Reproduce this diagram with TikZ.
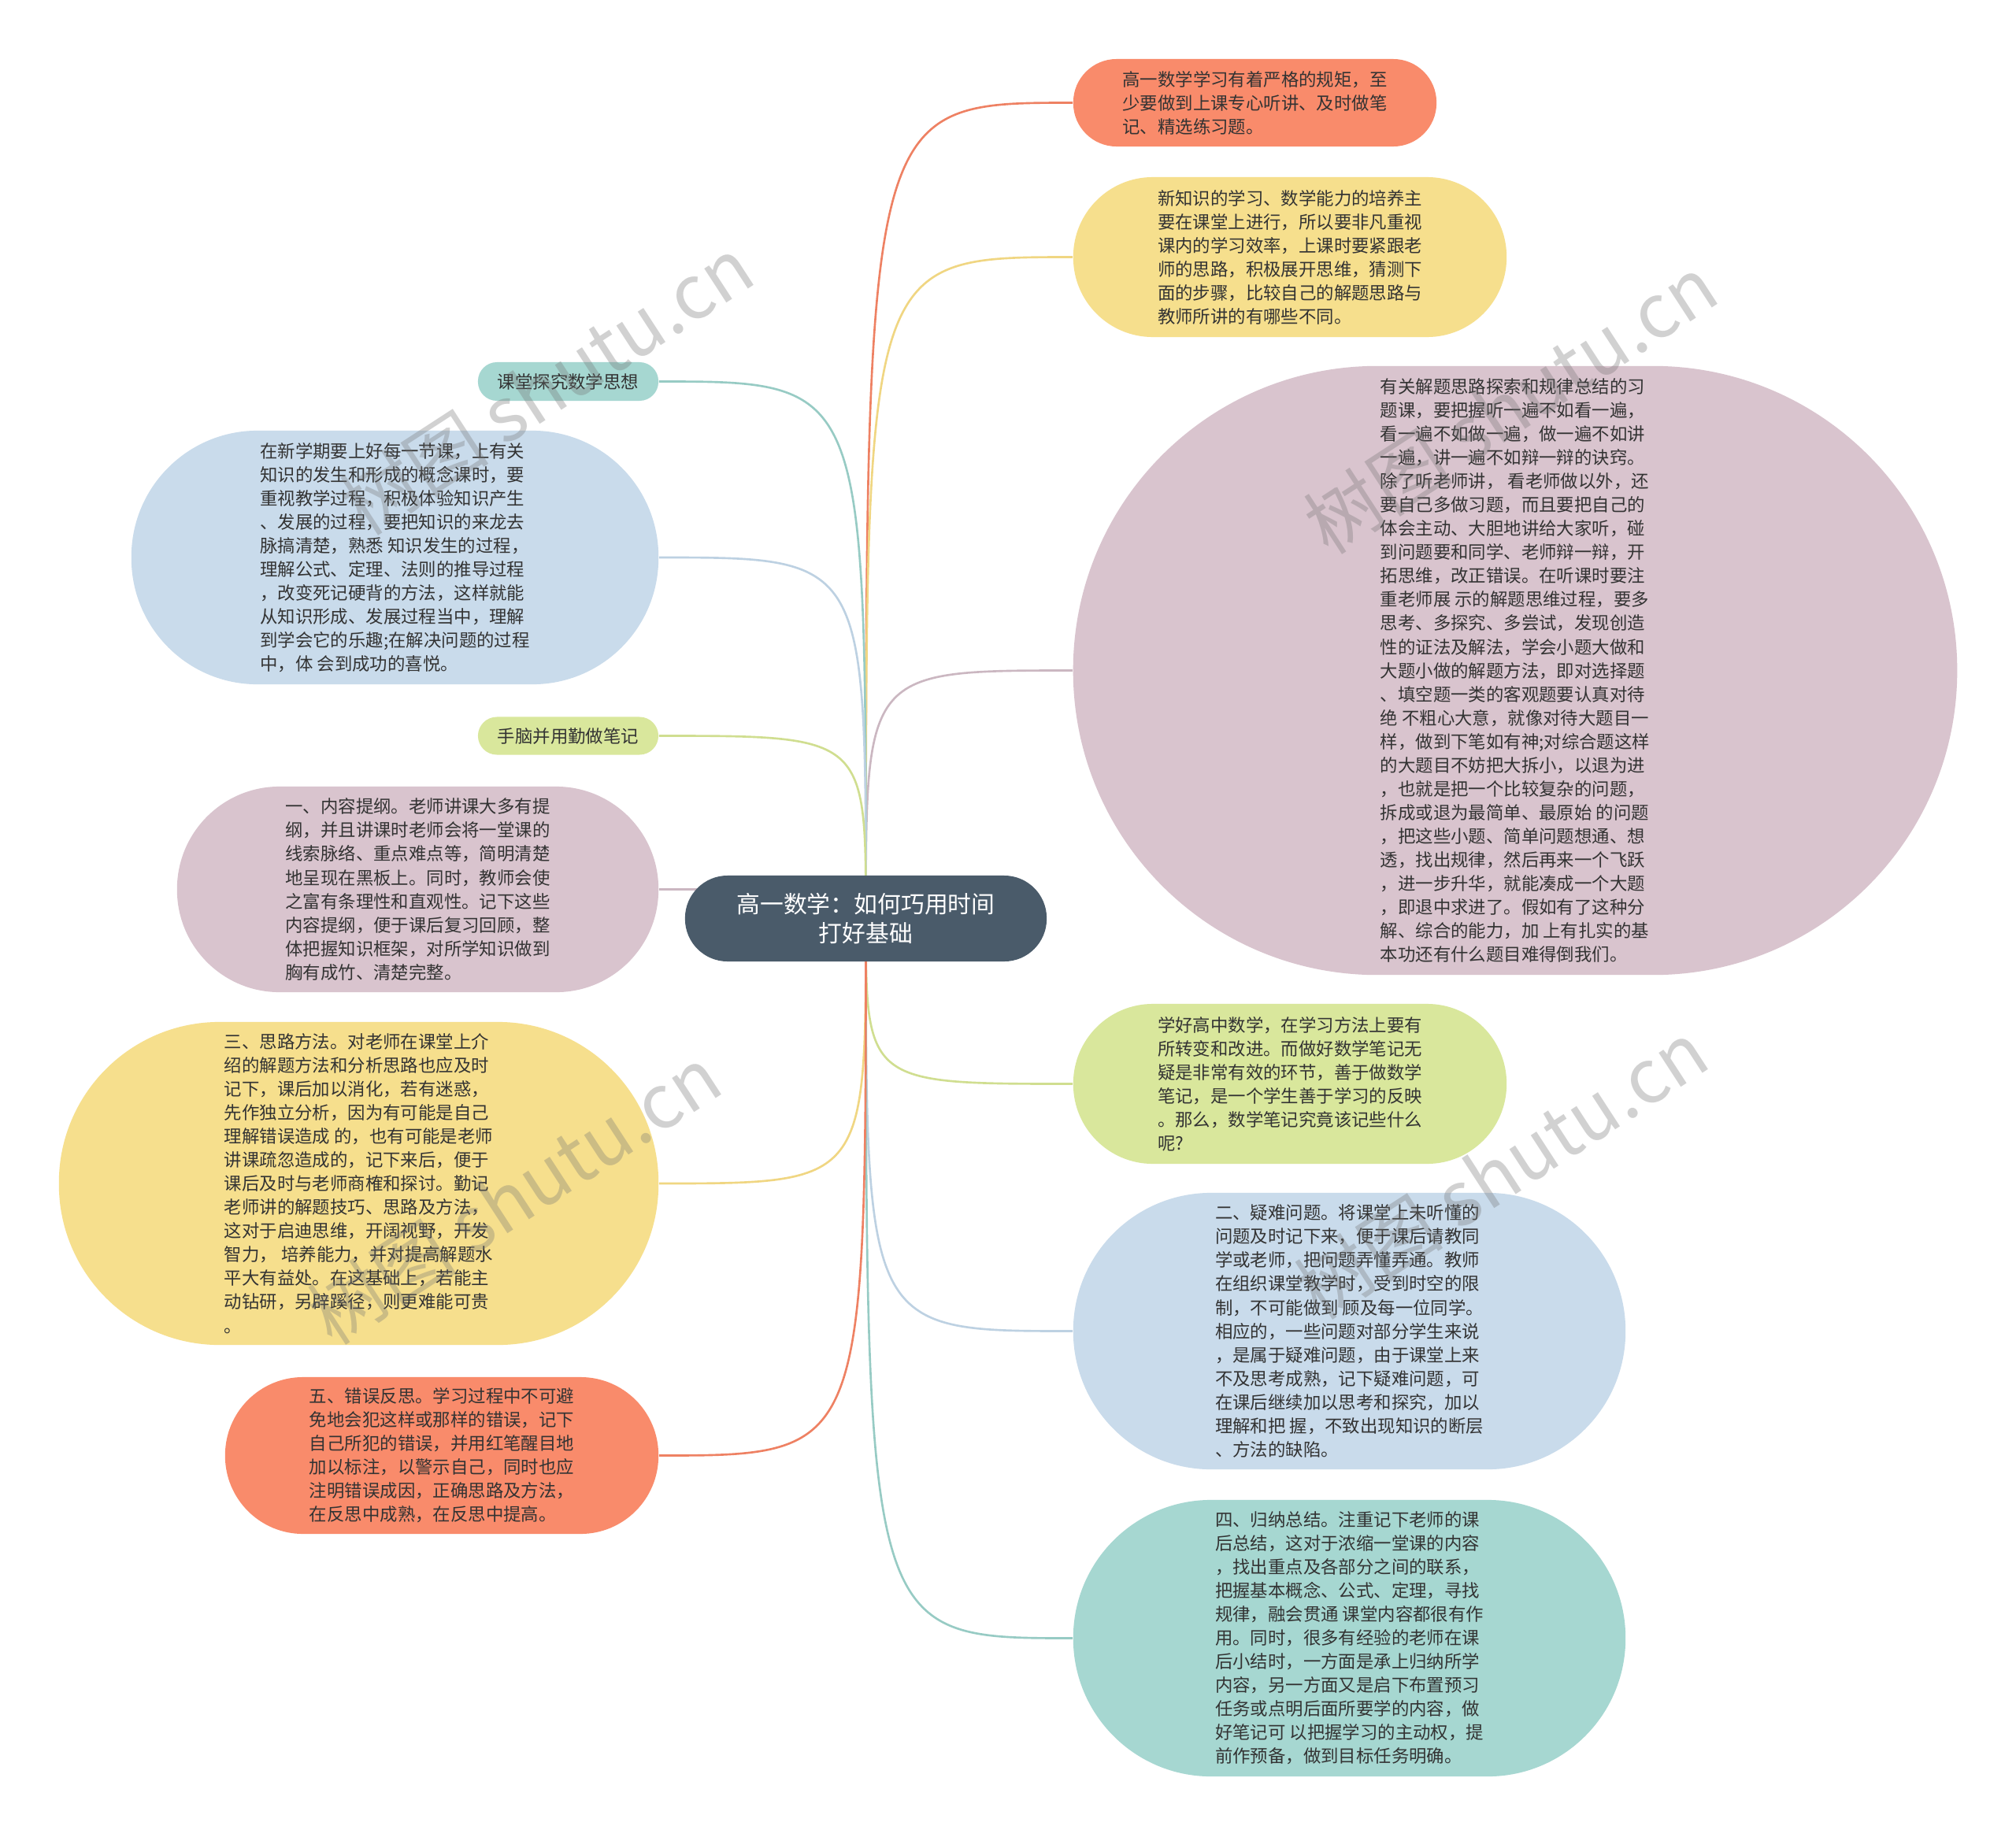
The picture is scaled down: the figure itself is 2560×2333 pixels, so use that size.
\documentclass[tikz,border=0pt]{standalone}
\usepackage{fontspec}
\newfontfamily\cjk{Noto Sans CJK SC}
\usetikzlibrary{backgrounds}
\definecolor{fOrange}{HTML}{F98B6B}
\definecolor{fYellow}{HTML}{F6DF8D}
\definecolor{fPink}{HTML}{D9C4CE}
\definecolor{fGreen}{HTML}{D9E79C}
\definecolor{fBlue}{HTML}{C9DBEB}
\definecolor{fTeal}{HTML}{A6D7D1}
\definecolor{fRoot}{HTML}{4A5B6A}
\definecolor{eOrange}{HTML}{EE8163}
\definecolor{eYellow}{HTML}{F0D682}
\definecolor{ePink}{HTML}{CBB7C1}
\definecolor{eGreen}{HTML}{D0DE90}
\definecolor{eBlue}{HTML}{BDD1E2}
\definecolor{eTeal}{HTML}{97CBC4}
\definecolor{txt}{HTML}{333333}
\tikzset{
  box/.style={rectangle, align=left, inner sep=0pt, text=txt,
    font=\cjk\fontsize{6.37pt}{8.54pt}\selectfont},
  rootbox/.style={rectangle, align=center, inner sep=0pt, text=white, fill=fRoot,
    font=\cjk\fontsize{8.48pt}{10.7pt}\selectfont},
  link/.style={line width=0.75pt},
  wm/.style={text=black!55, text opacity=0.32, font=\cjk\fontsize{27pt}{30pt}\selectfont, rotate=33}
}
\begin{document}
\begin{tikzpicture}[x=0.01cm, y=-0.01cm]
\useasboundingbox (0,0) rectangle (2560,2333);

\node[rootbox, minimum width=4.59cm, minimum height=1.09cm, rounded corners=0.54cm] (root) at (1099.5,1166.5) {高一数学：如何巧用时间\\打好基础};

% right side
\node[box, fill=fOrange, minimum width=4.61cm, minimum height=1.11cm, rounded corners=0.55cm] (r1) at (1593.5,130.5)
{高一数学学习有着严格的规矩，至\\少要做到上课专心听讲、及时做笔\\记、精选练习题。};

\node[box, fill=fYellow, minimum width=5.50cm, minimum height=2.03cm, rounded corners=1.01cm] (r2) at (1638,326.5)
{新知识的学习、数学能力的培养主\\要在课堂上进行，所以要非凡重视\\课内的学习效率，上课时要紧跟老\\师的思路，积极展开思维，猜测下\\面的步骤，比较自己的解题思路与\\教师所讲的有哪些不同。};

\node[box, fill=fPink, minimum width=11.22cm, minimum height=7.73cm, rounded corners=3.86cm] (r3) at (1924,851.5)
{有关解题思路探索和规律总结的习\\题课，要把握听一遍不如看一遍，\\看一遍不如做一遍，做一遍不如讲\\一遍，讲一遍不如辩一辩的诀窍。\\除了听老师讲， 看老师做以外，还\\要自己多做习题，而且要把自己的\\体会主动、大胆地讲给大家听，碰\\到问题要和同学、老师辩一辩，开\\拓思维，改正错误。在听课时要注\\重老师展 示的解题思维过程，要多\\思考、多探究、多尝试，发现创造\\性的证法及解法，学会小题大做和\\大题小做的解题方法，即对选择题\\、填空题一类的客观题要认真对待\\绝 不粗心大意，就像对待大题目一\\样，做到下笔如有神;对综合题这样\\的大题目不妨把大拆小，以退为进\\，也就是把一个比较复杂的问题，\\拆成或退为最简单、最原始 的问题\\，把这些小题、简单问题想通、想\\透，找出规律，然后再来一个飞跃\\，进一步升华，就能凑成一个大题\\，即退中求进了。假如有了这种分\\解、综合的能力，加 上有扎实的基\\本功还有什么题目难得倒我们。};

\node[box, fill=fGreen, minimum width=5.50cm, minimum height=2.03cm, rounded corners=1.01cm] (r4) at (1638,1376.5)
{学好高中数学，在学习方法上要有\\所转变和改进。而做好数学笔记无\\疑是非常有效的环节，善于做数学\\笔记，是一个学生善于学习的反映\\。那么，数学笔记究竟该记些什么\\呢?};

\node[box, fill=fBlue, minimum width=7.01cm, minimum height=3.51cm, rounded corners=1.75cm] (r5) at (1713.5,1690.5)
{二、疑难问题。将课堂上未听懂的\\问题及时记下来，便于课后请教同\\学或老师，把问题弄懂弄通。教师\\在组织课堂教学时，受到时空的限\\制，不可能做到 顾及每一位同学。\\相应的，一些问题对部分学生来说\\，是属于疑难问题，由于课堂上来\\不及思考成熟，记下疑难问题，可\\在课后继续加以思考和探究，加以\\理解和把 握，不致出现知识的断层\\、方法的缺陷。};

\node[box, fill=fTeal, minimum width=7.01cm, minimum height=3.51cm, rounded corners=1.75cm] (r6) at (1713.5,2080.5)
{四、归纳总结。注重记下老师的课\\后总结，这对于浓缩一堂课的内容\\，找出重点及各部分之间的联系，\\把握基本概念、公式、定理，寻找\\规律，融会贯通 课堂内容都很有作\\用。同时，很多有经验的老师在课\\后小结时，一方面是承上归纳所学\\内容，另一方面又是启下布置预习\\任务或点明后面所要学的内容，做\\好笔记可 以把握学习的主动权，提\\前作预备，做到目标任务明确。};

% left side
\node[box, fill=fTeal, minimum width=2.29cm, minimum height=0.49cm, rounded corners=0.24cm] (l1) at (721.5,484.5)
{课堂探究数学思想};

\node[box, fill=fBlue, minimum width=6.69cm, minimum height=3.22cm, rounded corners=1.60cm] (l2) at (501.5,708)
{在新学期要上好每一节课，上有关\\知识的发生和形成的概念课时，要\\重视教学过程，积极体验知识产生\\、发展的过程，要把知识的来龙去\\脉搞清楚，熟悉 知识发生的过程，\\理解公式、定理、法则的推导过程\\，改变死记硬背的方法，这样就能\\从知识形成、发展过程当中，理解\\到学会它的乐趣;在解决问题的过程\\中，体 会到成功的喜悦。};

\node[box, fill=fGreen, minimum width=2.29cm, minimum height=0.48cm, rounded corners=0.24cm] (l3) at (721.5,934.5)
{手脑并用勤做笔记};

\node[box, fill=fPink, minimum width=6.11cm, minimum height=2.61cm, rounded corners=1.30cm] (l4) at (530.5,1129.5)
{一、内容提纲。老师讲课大多有提\\纲，并且讲课时老师会将一堂课的\\线索脉络、重点难点等，简明清楚\\地呈现在黑板上。同时，教师会使\\之富有条理性和直观性。记下这些\\内容提纲，便于课后复习回顾，整\\体把握知识框架，对所学知识做到\\胸有成竹、清楚完整。};

\node[box, fill=fYellow, minimum width=7.61cm, minimum height=4.10cm, rounded corners=2.04cm] (l5) at (455.5,1503)
{三、思路方法。对老师在课堂上介\\绍的解题方法和分析思路也应及时\\记下，课后加以消化，若有迷惑，\\先作独立分析，因为有可能是自己\\理解错误造成 的，也有可能是老师\\讲课疏忽造成的，记下来后，便于\\课后及时与老师商榷和探讨。勤记\\老师讲的解题技巧、思路及方法，\\这对于启迪思维，开阔视野，开发\\智力， 培养能力，并对提高解题水\\平大有益处。在这基础上，若能主\\动钻研，另辟蹊径，则更难能可贵\\。};

\node[box, fill=fOrange, minimum width=5.50cm, minimum height=1.99cm, rounded corners=0.99cm] (l6) at (561,1848.5)
{五、错误反思。学习过程中不可避\\免地会犯这样或那样的错误，记下\\自己所犯的错误，并用红笔醒目地\\加以标注，以警示自己，同时也应\\注明错误成因，正确思路及方法，\\在反思中成熟，在反思中提高。};

\begin{scope}[on background layer]
\fill[white] (0,0) rectangle (2560,2333);
\draw[link, draw=eOrange] (root.center) .. controls (root.center |- r1.west) .. (r1.west);
\draw[link, draw=eYellow] (root.center) .. controls (root.center |- r2.west) .. (r2.west);
\draw[link, draw=ePink]   (root.center) .. controls (root.center |- r3.west) .. (r3.west);
\draw[link, draw=eGreen]  (root.center) .. controls (root.center |- r4.west) .. (r4.west);
\draw[link, draw=eBlue]   (root.center) .. controls (root.center |- r5.west) .. (r5.west);
\draw[link, draw=eTeal]   (root.center) .. controls (root.center |- r6.west) .. (r6.west);
\draw[link, draw=eTeal]   (root.center) .. controls (root.center |- l1.east) .. (l1.east);
\draw[link, draw=eBlue]   (root.center) .. controls (root.center |- l2.east) .. (l2.east);
\draw[link, draw=eGreen]  (root.center) .. controls (root.center |- l3.east) .. (l3.east);
\draw[link, draw=ePink]   (root.center) .. controls (root.center |- l4.east) .. (l4.east);
\draw[link, draw=eYellow] (root.center) .. controls (root.center |- l5.east) .. (l5.east);
\draw[link, draw=eOrange] (root.center) .. controls (root.center |- l6.east) .. (l6.east);
\end{scope}

% watermarks
\node[wm] (w1) at (694,490) {树图 shutu.cn};
\node[wm] (w2) at (1918,514) {树图 shutu.cn};
\node[wm] (w3) at (653,1518) {树图 shutu.cn};
\node[wm] (w4) at (1906,1486) {树图 shutu.cn};
\end{tikzpicture}
\end{document}
